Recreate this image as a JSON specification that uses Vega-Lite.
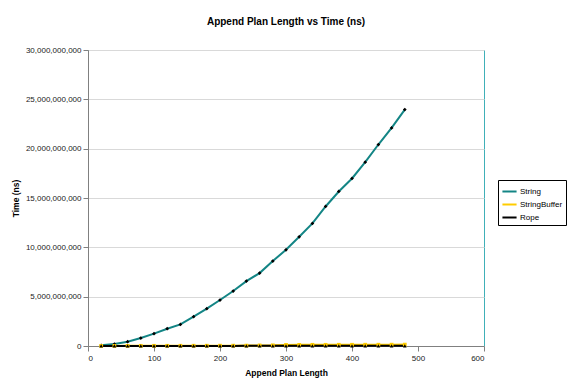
{
  "$schema": "https://vega.github.io/schema/vega-lite/v6.json",
  "width": 396,
  "height": 296,
  "autosize": {"type": "none"},
  "padding": {"left": 88, "top": 50, "right": 88, "bottom": 45},
  "background": "white",
  "config": {
    "font": "Liberation Sans",
    "view": {"stroke": "#40B0B8", "strokeWidth": 1},
    "axis": {
      "labelFont": "Liberation Sans",
      "labelFontSize": 8,
      "labelColor": "#222222",
      "titleFont": "Liberation Sans",
      "titleFontSize": 8.5,
      "titleFontWeight": "bold",
      "titleColor": "#000000",
      "domainColor": "#808080",
      "tickColor": "#808080",
      "tickSize": 5,
      "gridColor": "#D9D9D9",
      "gridWidth": 1
    }
  },
  "title": {
    "text": "Append Plan Length vs Time (ns)",
    "fontSize": 10,
    "fontWeight": "bold",
    "font": "Liberation Sans",
    "color": "#000000",
    "anchor": "middle",
    "offset": 19
  },
  "data": {
    "values": [
      {"n": 20, "series": "String", "t": 70000000},
      {"n": 40, "series": "String", "t": 200000000},
      {"n": 60, "series": "String", "t": 440000000},
      {"n": 80, "series": "String", "t": 810000000},
      {"n": 100, "series": "String", "t": 1250000000},
      {"n": 120, "series": "String", "t": 1750000000},
      {"n": 140, "series": "String", "t": 2190000000},
      {"n": 160, "series": "String", "t": 2970000000},
      {"n": 180, "series": "String", "t": 3780000000},
      {"n": 200, "series": "String", "t": 4660000000},
      {"n": 220, "series": "String", "t": 5570000000},
      {"n": 240, "series": "String", "t": 6580000000},
      {"n": 260, "series": "String", "t": 7390000000},
      {"n": 280, "series": "String", "t": 8610000000},
      {"n": 300, "series": "String", "t": 9750000000},
      {"n": 320, "series": "String", "t": 11070000000},
      {"n": 340, "series": "String", "t": 12420000000},
      {"n": 360, "series": "String", "t": 14140000000},
      {"n": 380, "series": "String", "t": 15660000000},
      {"n": 400, "series": "String", "t": 16980000000},
      {"n": 420, "series": "String", "t": 18630000000},
      {"n": 440, "series": "String", "t": 20420000000},
      {"n": 460, "series": "String", "t": 22100000000},
      {"n": 480, "series": "String", "t": 23960000000},
      {"n": 20, "series": "StringBuffer", "t": 10000000},
      {"n": 40, "series": "StringBuffer", "t": 12000000},
      {"n": 60, "series": "StringBuffer", "t": 15000000},
      {"n": 80, "series": "StringBuffer", "t": 18000000},
      {"n": 100, "series": "StringBuffer", "t": 20000000},
      {"n": 120, "series": "StringBuffer", "t": 22000000},
      {"n": 140, "series": "StringBuffer", "t": 25000000},
      {"n": 160, "series": "StringBuffer", "t": 28000000},
      {"n": 180, "series": "StringBuffer", "t": 30000000},
      {"n": 200, "series": "StringBuffer", "t": 33000000},
      {"n": 220, "series": "StringBuffer", "t": 36000000},
      {"n": 240, "series": "StringBuffer", "t": 40000000},
      {"n": 260, "series": "StringBuffer", "t": 60000000},
      {"n": 280, "series": "StringBuffer", "t": 70000000},
      {"n": 300, "series": "StringBuffer", "t": 110000000},
      {"n": 320, "series": "StringBuffer", "t": 115000000},
      {"n": 340, "series": "StringBuffer", "t": 120000000},
      {"n": 360, "series": "StringBuffer", "t": 120000000},
      {"n": 380, "series": "StringBuffer", "t": 125000000},
      {"n": 400, "series": "StringBuffer", "t": 125000000},
      {"n": 420, "series": "StringBuffer", "t": 130000000},
      {"n": 440, "series": "StringBuffer", "t": 130000000},
      {"n": 460, "series": "StringBuffer", "t": 135000000},
      {"n": 480, "series": "StringBuffer", "t": 140000000},
      {"n": 20, "series": "Rope", "t": 5000000},
      {"n": 40, "series": "Rope", "t": 6000000},
      {"n": 60, "series": "Rope", "t": 7000000},
      {"n": 80, "series": "Rope", "t": 8000000},
      {"n": 100, "series": "Rope", "t": 9000000},
      {"n": 120, "series": "Rope", "t": 10000000},
      {"n": 140, "series": "Rope", "t": 10000000},
      {"n": 160, "series": "Rope", "t": 11000000},
      {"n": 180, "series": "Rope", "t": 11000000},
      {"n": 200, "series": "Rope", "t": 12000000},
      {"n": 220, "series": "Rope", "t": 12000000},
      {"n": 240, "series": "Rope", "t": 13000000},
      {"n": 260, "series": "Rope", "t": 13000000},
      {"n": 280, "series": "Rope", "t": 14000000},
      {"n": 300, "series": "Rope", "t": 14000000},
      {"n": 320, "series": "Rope", "t": 15000000},
      {"n": 340, "series": "Rope", "t": 15000000},
      {"n": 360, "series": "Rope", "t": 16000000},
      {"n": 380, "series": "Rope", "t": 16000000},
      {"n": 400, "series": "Rope", "t": 17000000},
      {"n": 420, "series": "Rope", "t": 17000000},
      {"n": 440, "series": "Rope", "t": 18000000},
      {"n": 460, "series": "Rope", "t": 18000000},
      {"n": 480, "series": "Rope", "t": 19000000}
    ]
  },
  "encoding": {
    "x": {
      "field": "n",
      "type": "quantitative",
      "title": "Append Plan Length",
      "scale": {"domain": [0, 600], "nice": false, "zero": true},
      "axis": {"values": [0, 100, 200, 300, 400, 500, 600], "grid": false, "labelPadding": 3, "titlePadding": 6}
    },
    "y": {
      "field": "t",
      "type": "quantitative",
      "title": "Time (ns)",
      "scale": {"domain": [0, 30000000000], "nice": false},
      "axis": {"values": [0, 5000000000, 10000000000, 15000000000, 20000000000, 25000000000, 30000000000], "format": ",d", "labelPadding": 2, "titlePadding": 5}
    }
  },
  "layer": [
    {
      "mark": {"type": "line", "strokeWidth": 2},
      "encoding": {
        "color": {
          "field": "series",
          "type": "nominal",
          "scale": {"domain": ["String", "StringBuffer", "Rope"], "range": ["#138585", "#FFCC00", "#000000"]},
          "legend": {
            "title": null,
            "orient": "none",
            "legendX": 410,
            "legendY": 130,
            "symbolType": "stroke",
            "symbolSize": 200,
            "symbolStrokeWidth": 2,
            "labelFontSize": 8,
            "labelFont": "Liberation Sans",
            "labelColor": "#000000",
            "labelOffset": 2,
            "rowPadding": 0,
            "padding": 3,
            "strokeColor": "#000000",
            "fillColor": "white"
          }
        }
      }
    },
    {
      "mark": {"type": "point", "filled": true, "size": 14, "opacity": 1},
      "encoding": {
        "color": {
          "field": "series",
          "type": "nominal",
          "scale": {"domain": ["String", "StringBuffer", "Rope"], "range": ["#000000", "#FFCC00", "#000000"]},
          "legend": null
        },
        "shape": {
          "field": "series",
          "type": "nominal",
          "scale": {"domain": ["String", "StringBuffer", "Rope"], "range": ["diamond", "square", "triangle-up"]},
          "legend": null
        }
      }
    }
  ],
  "resolve": {"scale": {"color": "independent"}}
}
